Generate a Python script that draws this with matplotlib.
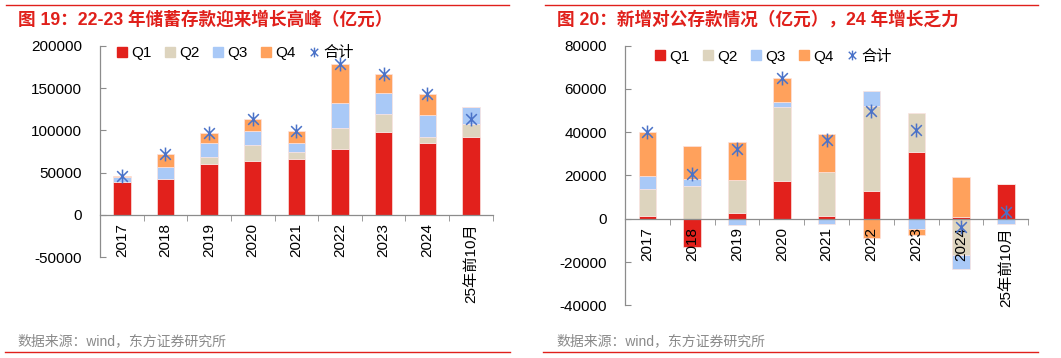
import numpy as np
import matplotlib
matplotlib.use("Agg")
import matplotlib.pyplot as plt
from matplotlib.path import Path
from matplotlib.lines import Line2D

plt.rcParams['font.family'] = ['Liberation Sans', 'Noto Sans CJK SC']

# ---------------- data ----------------
categories = ['2017', '2018', '2019', '2020', '2021', '2022', '2023', '2024', '25年前10月']
series_names = ['Q1', 'Q2', 'Q3', 'Q4']
total_name = '合计'

# Chart 19: household savings deposits (亿元)
sav_q1 = [39400, 42500, 60200, 64200, 66500, 78300, 98400, 85000, 91700]
sav_q2 = [0, 0, 7900, 18900, 8300, 24800, 20500, 7500, 15800]
sav_q3 = [5900, 14200, 16900, 16100, 9800, 29200, 25200, 25600, 19700]
sav_q4 = [1200, 15300, 11900, 13800, 14200, 46000, 22400, 24400, 0]
sav_total = [46500, 72000, 96900, 113000, 98800, 178300, 166500, 142500, 113400]

# Chart 20: new corporate deposits (亿元)
corp_q1 = [1500, -13100, 2800, 17600, 1400, 12900, 30800, 800, 16300]
corp_q2 = [12200, 15100, 15200, 34200, 20200, 39200, 17900, -16800, 0]
corp_q3 = [6000, 3200, -3100, 2300, -2500, 6800, -4600, -6400, -2500]
corp_q4 = [20500, 15300, 17600, 10800, 17400, -8900, -2900, 18600, 0]
corp_total = [40000, 20600, 32400, 64900, 36500, 49800, 41100, -3700, 3100]

colors = ['#E2211C', '#DDD4BE', '#A9C9F7', '#FFA15C']
star_color = '#4A72C8'
title_red = '#E0201B'

# Excel-like star marker (X plus vertical bar)
star_marker = Path([(-1, -1), (1, 1), (-1, 1), (1, -1), (0, -1.3), (0, 1.3)],
                   [Path.MOVETO, Path.LINETO, Path.MOVETO, Path.LINETO, Path.MOVETO, Path.LINETO])

W, H = 1061, 358
fig = plt.figure(figsize=(W / 100, H / 100), dpi=100)


def draw(ax, qs, total, ylim, yticks, bar_w, leg_anchor):
    x = np.arange(len(categories))
    pos_base = np.zeros(len(categories))
    neg_base = np.zeros(len(categories))
    for vals, c in zip(qs, colors):
        v = np.array(vals, dtype=float)
        base = np.where(v >= 0, pos_base, neg_base)
        ax.bar(x, v, bottom=base, width=bar_w, color=c, edgecolor='#FBE3E0', linewidth=0.5, zorder=1)
        pos_base = pos_base + np.where(v >= 0, v, 0)
        neg_base = neg_base + np.where(v < 0, v, 0)
    ax.plot(x, total, linestyle='none', marker=star_marker, markersize=10, markerfacecolor='none',
            markeredgecolor=star_color, markeredgewidth=1.1, zorder=3)
    ax.set_ylim(*ylim)
    ax.set_xlim(-0.5, len(categories) - 0.5)
    ax.set_yticks(yticks)
    ax.set_yticklabels([f'{int(t)}' for t in yticks])
    for s in ['top', 'right']:
        ax.spines[s].set_visible(False)
    ax.spines['bottom'].set_position(('data', 0))
    for s in ['left', 'bottom']:
        ax.spines[s].set_color('#8C8C8C')
        ax.spines[s].set_linewidth(0.9)
    ax.set_xticks(x)
    ax.set_xticklabels(categories, rotation=90, va='top', ha='center')
    ax.set_xticks(np.arange(-0.5, len(categories)), minor=True)
    ax.tick_params(axis='x', which='major', length=0, pad=6, labelsize=11)
    ax.tick_params(axis='x', which='minor', length=4, direction='out', color='#8C8C8C')
    ax.tick_params(axis='y', length=4, direction='in', color='#8C8C8C', pad=13, labelsize=11)
    handles = [Line2D([], [], marker='s', linestyle='none', color=c, markersize=7) for c in colors]
    handles.append(Line2D([], [], marker=star_marker, linestyle='none', markerfacecolor='none',
                          markeredgecolor=star_color, markeredgewidth=1.0, markersize=7))
    ax.legend(handles, series_names + [total_name], loc='center left', bbox_to_anchor=leg_anchor,
              ncol=5, frameon=False, fontsize=11, handlelength=0.6, handletextpad=0.3,
              columnspacing=0.9, borderaxespad=0, borderpad=0)


ax1 = fig.add_axes([100 / W, 1 - 257.3 / H, 392.7 / W, 211.6 / H])
draw(ax1, [sav_q1, sav_q2, sav_q3, sav_q4], sav_total, (-50000, 200000),
     [-50000, 0, 50000, 100000, 150000, 200000], 0.4, (0.045, 0.965))

ax2 = fig.add_axes([625 / W, 1 - 305.3 / H, 403.3 / W, 259.6 / H])
draw(ax2, [corp_q1, corp_q2, corp_q3, corp_q4], corp_total, (-40000, 80000),
     [-40000, -20000, 0, 20000, 40000, 60000, 80000], 0.39, (0.076, 0.958))

# titles
fig.text(18 / W, 1 - 20 / H, '图 19：22-23 年储蓄存款迎来增长高峰（亿元）', color=title_red,
         fontsize=12.7, fontweight='bold', va='center', ha='left')
fig.text(557 / W, 1 - 20 / H, '图 20：新增对公存款情况（亿元），24 年增长乏力', color=title_red,
         fontsize=12.7, fontweight='bold', va='center', ha='left')

# sources
fig.text(17 / W, 1 - 341.7 / H, '数据来源：wind，东方证券研究所', color='#8A8A8A', fontsize=10,
         va='center', ha='left')
fig.text(556 / W, 1 - 341.7 / H, '数据来源：wind，东方证券研究所', color='#8A8A8A', fontsize=10,
         va='center', ha='left')

# red rules
for (x0, x1) in [(6, 509), (545, 1038)]:
    fig.add_artist(Line2D([x0 / W, x1 / W], [1 - 5 / H, 1 - 5 / H], color='#E0201B', linewidth=1.0))
for (x0, x1) in [(5, 510), (543, 1038)]:
    fig.add_artist(Line2D([x0 / W, x1 / W], [1 - 351.7 / H, 1 - 351.7 / H], color='#E0201B', linewidth=1.0))

fig.savefig('out.png', dpi=100)
